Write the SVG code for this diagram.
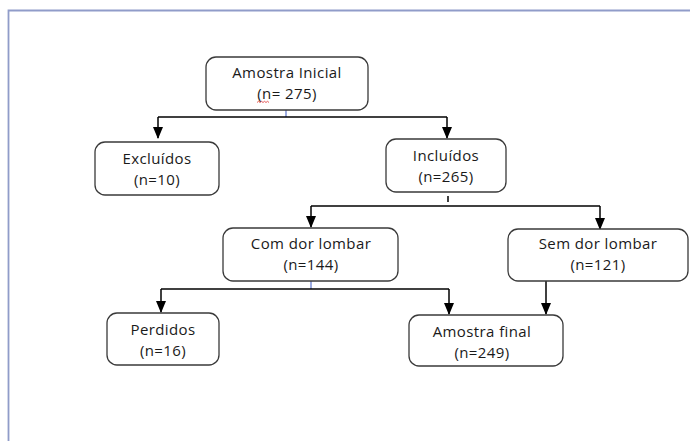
<svg xmlns="http://www.w3.org/2000/svg" width="690" height="441" viewBox="0 0 690 441">
<style>
.box{fill:#fff;stroke:#3a3a3a;stroke-width:1.3}
.t{font-family:"Open Sans","Liberation Sans",sans-serif;font-size:15px;letter-spacing:0.4px;fill:#1a1a1a;text-anchor:middle}
.ln{fill:none;stroke:#000;stroke-width:1.5}
.bl{fill:none;stroke:#7b8fd6;stroke-width:1.5}
</style>
<defs>
<marker id="ah" markerWidth="12" markerHeight="10" refX="11" refY="5" orient="auto" markerUnits="userSpaceOnUse">
<path d="M0,0 L12,5 L0,10 Z" fill="#000"/>
</marker>
</defs>
<rect width="690" height="441" fill="#fff"/>
<path d="M8.5,441 V10.5 H690" fill="none" stroke="#909cc9" stroke-width="1.8"/>
<g id="connectors">
<path class="bl" d="M286,110 V117"/>
<path class="ln" d="M158,117 H447"/>
<path class="ln" d="M158,117 V138" marker-end="url(#ah)"/>
<path class="ln" d="M447,117 V138" marker-end="url(#ah)"/>
<path class="ln" d="M448,196 V202" stroke-width="1"/>
<path class="ln" d="M311,206 H600"/>
<path class="ln" d="M311,206 V227" marker-end="url(#ah)"/>
<path class="ln" d="M600,206 V229" marker-end="url(#ah)"/>
<path class="bl" d="M311,281 V289"/>
<path class="ln" d="M161,289 H449"/>
<path class="ln" d="M161,289 V312" marker-end="url(#ah)"/>
<path class="ln" d="M449,289 V314" marker-end="url(#ah)"/>
<path class="ln" d="M546,281 V314" marker-end="url(#ah)"/>
</g>
<g id="n1">
<rect class="box" x="206" y="57" width="162" height="53" rx="10"/>
<text class="t" x="287" y="78">Amostra Inicial</text>
<text class="t" x="287" y="99">(n= 275)</text>
<path d="M257,102.5 l1.5,-1.2 l1.5,1.2 l1.5,-1.2 l1.5,1.2 l1.5,-1.2 l1.5,1.2 l1.5,-1.2 l1.5,1.2" fill="none" stroke="#e03030" stroke-width="0.8"/>
</g>
<g id="n2">
<rect class="box" x="95" y="142" width="124" height="53" rx="10"/>
<text class="t" x="157" y="164">Excluídos</text>
<text class="t" x="157" y="185">(n=10)</text>
</g>
<g id="n3">
<rect class="box" x="386" y="139" width="120" height="53" rx="10"/>
<text class="t" x="446" y="161">Incluídos</text>
<text class="t" x="446" y="182">(n=265)</text>
</g>
<g id="n4">
<rect class="box" x="223" y="228" width="175" height="53" rx="10"/>
<text class="t" x="311" y="249">Com dor lombar</text>
<text class="t" x="311" y="270">(n=144)</text>
</g>
<g id="n5">
<rect class="box" x="508" y="229" width="180" height="52" rx="10"/>
<text class="t" x="598" y="249">Sem dor lombar</text>
<text class="t" x="598" y="270">(n=121)</text>
</g>
<g id="n6">
<rect class="box" x="107" y="313" width="112" height="52" rx="10"/>
<text class="t" x="163" y="335">Perdidos</text>
<text class="t" x="163" y="356">(n=16)</text>
</g>
<g id="n7">
<rect class="box" x="409" y="315" width="154" height="51" rx="10"/>
<text class="t" x="482" y="337">Amostra final</text>
<text class="t" x="482" y="358">(n=249)</text>
</g>
</svg>
